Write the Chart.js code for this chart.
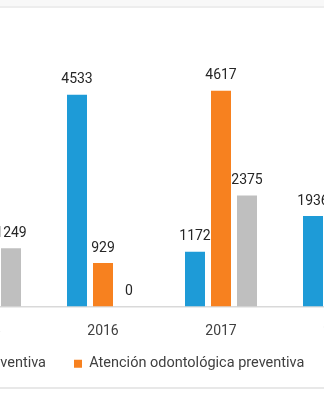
<!DOCTYPE html>
<html>
<head>
<meta charset="utf-8">
<script src="https://cdn.jsdelivr.net/npm/chart.js@4.4.1/dist/chart.umd.min.js"></script>
<style>
    html, body { margin: 0; padding: 0; background: #fff; overflow: hidden; }
    body { width: 324px; height: 400px; position: relative; }
    .frame-top { position: absolute; left: 0; top: 0; width: 324px; height: 6px; background: #f8f8f8; border-bottom: 2px solid #ededed; }
    .frame-bottom { position: absolute; left: 0; top: 387px; width: 324px; border-top: 2px solid #e8e8e8; }
    #chartBox { position: absolute; left: -400px; top: 0; width: 1200px; height: 400px; }
</style>
</head>
<body>
<div class="frame-top"></div>
<div id="chartBox"><canvas id="odontoChart"></canvas></div>
<div class="frame-bottom"></div>
<script>
// data (null = bar outside the visible crop)
const years = ['2015', '2016', '2017', '2018'];
const seriesNames = ['Educación odontológica preventiva', 'Atención odontológica preventiva', 'Altas odontológicas'];
const blueValues = [null, 4533, 1172, 1936];
const orangeValues = [3910, 929, 4617, 5598];
const grayValues = [1249, 0, 2375, null];
const yMax = 6000;

const seriesColors = ['#1e9bd7', '#f7811f', '#bfbfbf'];
const textColor = '#404040';
const fontFamily = 'Roboto, "Liberation Sans", sans-serif';

// page geometry of the crop
const boxLeft = -400;
const boxWidth = 1200;
const plotLeft = -74;
const plotRight = 398;
const legendGap = 28;
const legendSquare = 8;
const legendFontSize = 14.5;
const orangeItemStart = 74;
const legendShift = 9;

function measureText(text) {
    const ctx = document.createElement('canvas').getContext('2d');
    ctx.font = legendFontSize + 'px ' + fontFamily;
    return ctx.measureText(text).width;
}

const itemWidths = seriesNames.map(function(name) {
    return legendSquare + legendFontSize / 2 + measureText(name);
});
const legendCenter = orangeItemStart + (itemWidths[1] + itemWidths[2] - itemWidths[0]) / 2;
const needed = (itemWidths[0] + itemWidths[1] + itemWidths[2] + 4 * legendGap) / 2 + 6;
const half = Math.max(needed, legendCenter - plotLeft, plotRight - legendCenter);
const legendLeft = legendCenter - half;
const legendRight = legendCenter + half;
const leftAxisWidth = plotLeft - legendLeft;
const rightAxisWidth = legendRight - plotRight;

const valueLabels = {
    id: 'valueLabels',
    afterDatasetsDraw: function(chart) {
        const ctx = chart.ctx;
        ctx.save();
        ctx.font = '14px ' + fontFamily;
        ctx.fillStyle = '#262626';
        ctx.textAlign = 'center';
        ctx.textBaseline = 'alphabetic';
        chart.data.datasets.forEach(function(dataset, i) {
            chart.getDatasetMeta(i).data.forEach(function(bar, j) {
                const value = dataset.data[j];
                if (value === null || value === undefined) return;
                ctx.fillText(String(value), bar.x, bar.y - 11.5);
            });
        });
        ctx.restore();
    }
};

// the legend sits closer to the year labels than its padding allows
const legendLift = {
    id: 'legendLift',
    afterLayout: function(chart) {
        chart.legend.top -= legendShift;
        chart.legend.bottom -= legendShift;
    }
};

const hiddenAxis = function(position, width) {
    return {
        type: 'linear',
        position: position,
        display: true,
        min: 0,
        max: yMax,
        grid: { display: false, drawTicks: false },
        border: { display: false },
        ticks: { display: false },
        afterFit: function(scale) { scale.width = width; }
    };
};

new Chart(document.getElementById('odontoChart'), {
    type: 'bar',
    data: {
        labels: years,
        datasets: [{
            label: seriesNames[0],
            data: blueValues,
            backgroundColor: seriesColors[0],
            borderWidth: 0
        }, {
            label: seriesNames[1],
            data: orangeValues,
            backgroundColor: seriesColors[1],
            borderWidth: 0
        }, {
            label: seriesNames[2],
            data: grayValues,
            backgroundColor: seriesColors[2],
            borderWidth: 0
        }]
    },
    options: {
        responsive: true,
        maintainAspectRatio: false,
        animation: false,
        datasets: {
            bar: {
                categoryPercentage: 0.661,
                barPercentage: 0.769
            }
        },
        layout: {
            padding: {
                left: legendLeft - boxLeft,
                right: boxLeft + boxWidth - legendRight,
                top: 26.2,
                bottom: 10
            }
        },
        plugins: {
            legend: {
                position: 'bottom',
                labels: {
                    boxWidth: legendSquare,
                    boxHeight: legendSquare,
                    padding: legendGap,
                    color: textColor,
                    font: { size: legendFontSize, family: fontFamily }
                }
            },
            tooltip: { enabled: false }
        },
        scales: {
            x: {
                grid: { display: false, drawTicks: false },
                border: { display: true, color: '#d9d9d9', width: 1.5 },
                ticks: {
                    color: textColor,
                    padding: 17,
                    font: { size: 14, family: fontFamily }
                },
                afterFit: function(scale) { scale.height = 31; }
            },
            y: hiddenAxis('left', leftAxisWidth),
            yRight: hiddenAxis('right', rightAxisWidth)
        }
    },
    plugins: [valueLabels, legendLift]
});
</script>
</body>
</html>
